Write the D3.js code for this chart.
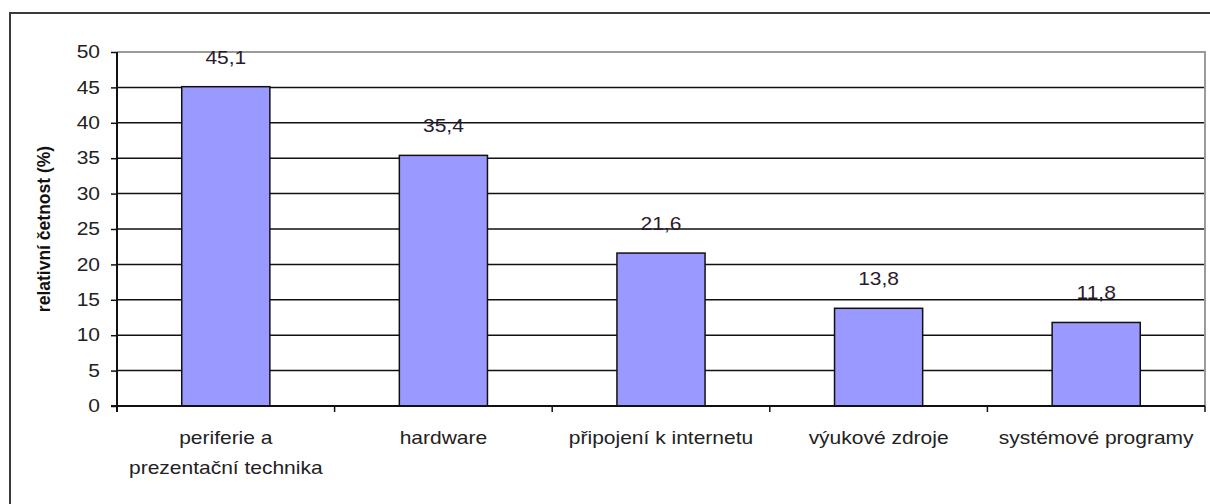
<!DOCTYPE html>
<html><head><meta charset="utf-8">
<script src="https://cdn.jsdelivr.net/npm/d3@7"></script>
<style>body{margin:0;background:#fff}svg{display:block}text{font-family:"Liberation Sans",Arial,sans-serif}</style>
</head><body>
<script>
const categories = [["periferie a","prezentační technika"],["hardware"],["připojení k internetu"],["výukové zdroje"],["systémové programy"]];
const values = [45.1, 35.4, 21.6, 13.8, 11.8];
const valueLabels = ["45,1","35,4","21,6","13,8","11,8"];
const yTicks = [0,5,10,15,20,25,30,35,40,45,50];
const yTitle = "relativní četnost (%)";

const W=1210,H=504, FS=17.5, SX=1.2;
const svg=d3.select("body").append("svg").attr("width",W).attr("height",H);
svg.append("rect").attr("width",W).attr("height",H).attr("fill","#fff");
svg.append("rect").attr("x",10).attr("y",13).attr("width",W+20).attr("height",H+20)
  .attr("fill","none").attr("stroke","#3a3a3a").attr("stroke-width",2);

const L=117,R=1205,T=52,B=406;
const x=d3.scaleBand().domain(d3.range(categories.length)).range([L,R]).padding(0);
const y=d3.scaleLinear().domain([0,50]).range([B,T]);
const barW=x.bandwidth()*0.405;

// gridlines
svg.append("g").selectAll("line").data(yTicks.filter(t=>t>0&&t<50)).join("line")
  .attr("x1",L).attr("x2",R).attr("y1",d=>y(d)).attr("y2",d=>y(d))
  .attr("stroke","#111").attr("stroke-width",1.5);
// plot border (top & right)
svg.append("path").attr("d",`M${L},${y(50)}H${R}V${B}`).attr("fill","none")
  .attr("stroke","#9a9a9a").attr("stroke-width",2);

// bars
svg.append("g").selectAll("rect").data(values).join("rect")
  .attr("x",(d,i)=>x(i)+x.bandwidth()/2-barW/2).attr("width",barW)
  .attr("y",d=>y(d)).attr("height",d=>B-y(d))
  .attr("fill","#9999ff").attr("stroke","#111").attr("stroke-width",1.5);

// value labels
svg.append("g").selectAll("text").data(values).join("text")
  .attr("transform",(d,i)=>`translate(${x(i)+x.bandwidth()/2},${y(d)-23}) scale(${SX},1)`)
  .attr("text-anchor","middle").attr("font-size",FS).attr("fill","#2a1a30")
  .text((d,i)=>valueLabels[i]);

// y axis
const ya=svg.append("g").attr("transform",`translate(${L},0)`)
  .call(d3.axisLeft(y).tickValues(yTicks).tickSize(6).tickPadding(11).tickFormat(d3.format("d")));
ya.select(".domain").attr("stroke","#111").attr("stroke-width",2).attr("d",`M0,${B+6}V${T}`);
ya.selectAll(".tick line").attr("stroke","#111").attr("stroke-width",1.5);
ya.selectAll(".tick text").attr("font-size",FS).attr("fill","#222")
  .attr("font-family","Liberation Sans, Arial, sans-serif")
  .attr("x",-17/SX).attr("transform",`scale(${SX},1)`);

// x axis
svg.append("line").attr("x1",L-6).attr("x2",R).attr("y1",B).attr("y2",B).attr("stroke","#111").attr("stroke-width",2);
const bounds=d3.range(categories.length+1).map(i=>i<categories.length?x(i):R);
svg.append("g").selectAll("line").data(bounds).join("line")
  .attr("x1",d=>d).attr("x2",d=>d).attr("y1",B).attr("y2",B+6)
  .attr("stroke","#111").attr("stroke-width",1.5);
const cl=svg.append("g").selectAll("text").data(categories).join("text")
  .attr("transform",(d,i)=>`translate(${x(i)+x.bandwidth()/2},444) scale(${SX},1)`)
  .attr("text-anchor","middle").attr("font-size",FS).attr("fill","#222");
cl.each(function(d){
  const t=d3.select(this);
  d.forEach((s,j)=>t.append("tspan").attr("x",0).attr("dy",j?30:0).text(s));
});

// y title
svg.append("text").attr("transform",`translate(50,${(T+B)/2}) rotate(-90)`)
  .attr("text-anchor","middle").attr("font-size",FS).attr("font-weight","bold").attr("fill","#111")
  .text(yTitle);
</script>
</body></html>
